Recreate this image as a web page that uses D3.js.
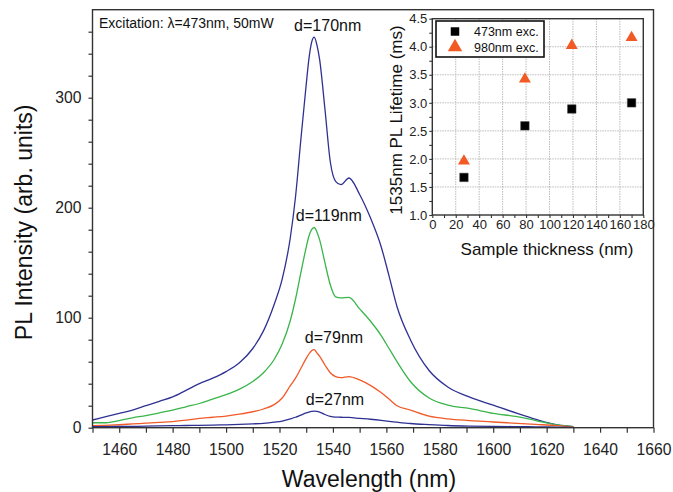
<!DOCTYPE html>
<html>
<head>
<meta charset="utf-8">
<script src="https://cdn.jsdelivr.net/npm/d3@7"></script>
<style>
  html, body { margin: 0; padding: 0; background: #fff; }
  svg { display: block; }
  text { font-family: "Liberation Sans", Arial, Helvetica, sans-serif; }
</style>
</head>
<body>
<svg id="chart" width="673" height="492"></svg>
<script>
// ---------- DATA ----------
const wavelengths = [1450,1455,1460,1465,1470,1475,1480,1485,1490,1495,1500,1505,1510,1514,1518,1521,1524,1526,1528,1530,1531,1532,1533,1534,1535,1537,1539,1541,1543,1546,1550,1554,1558,1561,1564,1569,1576,1583,1591,1600,1609,1616,1624,1630];
const pl170 = [7,10,13,16,20,24,28,34,40,45,51,59,72,88,112,135,172,210,262,312,335,350,355,348,335,290,242,224,221,227,212,191,165,138,110,80,52,37,28,20.5,13,7.5,2.5,1];
const pl119 = [4.5,4.5,6.5,9,11,13.5,16,19,22,26,30,35,42,50,62,76,97,117,141,164,174,180,182,178,171,150,130,119,118,118.5,108,97,84,72,60,42,27,20.5,17.5,13,10,6.5,2.5,1];
const pl79  = [1.8,2.2,2.7,3.4,4.1,4.8,5.5,6.8,8.5,9.5,10.6,12.3,14.5,17,21,27,38,45,54,63,67,70,71,68,65,57,50,46.5,45.5,46.5,43.5,38.5,32,26,20,16,10.5,8,6.5,5.2,4,3,1.8,0.5];
const pl27  = [0.9,1,1.1,1.2,1.4,1.6,1.8,2,2.2,2.4,2.6,3,3.5,4,5,6,8,9.5,11.5,13.5,14.2,14.8,15,14.8,14.2,12,10.3,9.6,9.5,9.3,8.5,7.7,6.7,5.8,5,3.8,2.8,2,1.5,1.2,1,0.8,0.5,0.3];
const seriesLabels = ["d=170nm","d=119nm","d=79nm","d=27nm"];
const seriesColors = ["#2e3192","#39b54a","#f15a29","#2e3192"];

const thickness = [27,79,119,170];
const life473 = [1.67,2.59,2.89,3.00];
const life980 = [1.98,3.44,4.04,4.18];
const err980  = [0.07,0.05,0.04,0.05];
const legendLabels = ["473nm exc.","980nm exc."];

const xMainTicks = d3.range(1450, 1661, 10);
const yMainTicks = d3.range(0, 361, 20);
const xInsetTicks = d3.range(0, 181, 10);
const yInsetTicks = d3.range(1, 4.51, 0.25);

// ---------- DRAW ----------
const svg = d3.select("#chart");
const axisCol = "#333";
const labCol = "#222";

const x = d3.scaleLinear().domain([1450,1660]).range([92.5,653.5]);
const y = d3.scaleLinear().domain([0,380]).range([427.7,9.7]);

// curves
const series = [pl170, pl119, pl79, pl27];
const line = d3.line().x((d,i)=>x(wavelengths[i])).y(d=>y(d)).curve(d3.curveMonotoneX);
series.forEach((s,k)=>{
  svg.append("path").datum(s).attr("d", line)
    .attr("fill","none").attr("stroke",seriesColors[k]).attr("stroke-width",1.3)
    .attr("stroke-linejoin","round");
});

// main axes
const xAxis = d3.axisBottom(x).tickValues(xMainTicks).tickSize(5).tickSizeOuter(0)
  .tickFormat(d => (d % 20 === 0 && d !== 1450) ? d : "");
const gx = svg.append("g").attr("transform",`translate(0,${y(0)})`).call(xAxis);
gx.select(".domain").remove();
gx.selectAll("line").attr("stroke",axisCol).attr("stroke-width",1.2);
gx.selectAll("text").attr("font-size","15.7px").attr("fill",labCol).attr("dy","1.2em");

const yAxis = d3.axisLeft(y).tickValues(yMainTicks).tickSize(4).tickSizeOuter(0)
  .tickFormat(d => d % 100 === 0 ? d : "");
const gy = svg.append("g").attr("transform",`translate(${x(1450)},0)`).call(yAxis);
gy.select(".domain").remove();
gy.selectAll("line").attr("stroke",axisCol).attr("stroke-width",1.2);
gy.selectAll("text").attr("font-size","15.7px").attr("fill",labCol).attr("x",-11);

// main frame
svg.append("rect").attr("x",x(1450)).attr("y",y(380)).attr("width",x(1660)-x(1450)).attr("height",y(0)-y(380))
  .attr("fill","none").attr("stroke",axisCol).attr("stroke-width",1.4);

// main labels
svg.append("text").attr("x",369).attr("y",486.5).attr("text-anchor","middle")
  .attr("font-size","23px").attr("fill","#111").text("Wavelength (nm)");
svg.append("text").attr("transform","translate(31.5,222.4) rotate(-90)").attr("text-anchor","middle")
  .attr("font-size","23px").attr("fill","#111").text("PL Intensity (arb. units)");

svg.append("text").attr("x",99).attr("y",28).attr("font-size","14px").attr("fill","#111")
  .text("Excitation: λ=473nm, 50mW");

const labelPos = [[327.7,31],[328.8,220.7],[334,342.7],[335,405]];
seriesLabels.forEach((t,k)=>{
  svg.append("text").attr("x",labelPos[k][0]).attr("y",labelPos[k][1]).attr("text-anchor","middle")
    .attr("font-size","16px").attr("fill","#111").text(t);
});

// ---------- INSET ----------
const xi = d3.scaleLinear().domain([0,180]).range([432.3,643.3]);
const yi = d3.scaleLinear().domain([1,4.5]).range([215,18.7]);

// grid
const gGrid = svg.append("g");
d3.range(20,180,20).forEach(v=>{
  gGrid.append("line").attr("x1",xi(v)).attr("x2",xi(v)).attr("y1",yi(1)).attr("y2",yi(4.5))
    .attr("stroke","#bbb").attr("stroke-width",1).attr("stroke-dasharray","1.5,1");
});
d3.range(1.5,4.5,0.5).forEach(v=>{
  gGrid.append("line").attr("x1",xi(0)).attr("x2",xi(180)).attr("y1",yi(v)).attr("y2",yi(v))
    .attr("stroke","#bbb").attr("stroke-width",1).attr("stroke-dasharray","1.5,1");
});

const xiAxis = d3.axisBottom(xi).tickValues(xInsetTicks).tickSize(3).tickSizeOuter(0)
  .tickFormat(d => d % 20 === 0 ? d : "");
const gxi = svg.append("g").attr("transform",`translate(0,${yi(1)})`).call(xiAxis);
gxi.select(".domain").remove();
gxi.selectAll("line").attr("stroke",axisCol).attr("stroke-width",1.1);
gxi.selectAll("text").attr("font-size","13px").attr("fill",labCol).attr("y",5);

const yiAxis = d3.axisLeft(yi).tickValues(yInsetTicks).tickSize(3).tickSizeOuter(0)
  .tickFormat(d => Math.abs(d*2 - Math.round(d*2))<1e-6 ? d3.format(".1f")(d) : "");
const gyi = svg.append("g").attr("transform",`translate(${xi(0)},0)`).call(yiAxis);
gyi.select(".domain").remove();
gyi.selectAll("line").attr("stroke",axisCol).attr("stroke-width",1.1);
gyi.selectAll("text").attr("font-size","13px").attr("fill",labCol).attr("x",-5);

svg.append("rect").attr("x",xi(0)).attr("y",yi(4.5)).attr("width",xi(180)-xi(0)).attr("height",yi(1)-yi(4.5))
  .attr("fill","none").attr("stroke",axisCol).attr("stroke-width",1.4);

// error bars
thickness.forEach((t,i)=>{
  svg.append("line").attr("x1",xi(t)).attr("x2",xi(t))
    .attr("y1",yi(life980[i]-err980[i])).attr("y2",yi(life980[i]+err980[i]))
    .attr("stroke","#f15a24").attr("stroke-width",1.5);
});
const sq = d3.symbol().type(d3.symbolSquare).size(72);
const tri = d3.symbol().type(d3.symbolTriangle).size(62);
thickness.forEach((t,i)=>{
  svg.append("path").attr("d",sq()).attr("transform",`translate(${xi(t)},${yi(life473[i])})`)
    .attr("fill","#000").attr("stroke","#444").attr("stroke-width",0.5);
  svg.append("path").attr("d",tri()).attr("transform",`translate(${xi(t)},${yi(life980[i])+1})`)
    .attr("fill","#f15a24");
});

// legend
svg.append("rect").attr("x",436).attr("y",21).attr("width",108).attr("height",36)
  .attr("fill","#fff").attr("stroke","#111").attr("stroke-width",1.6);
svg.append("path").attr("d",sq()).attr("transform","translate(455,31.5)").attr("fill","#000");
svg.append("path").attr("d",d3.symbol().type(d3.symbolTriangle).size(90)()).attr("transform","translate(455,47)").attr("fill","#f15a24");
legendLabels.forEach((t,k)=>{
  svg.append("text").attr("x",474).attr("y",36+k*15.5).attr("font-size","12.5px").attr("fill","#111").text(t);
});

// inset labels
svg.append("text").attr("x",547).attr("y",254.5).attr("text-anchor","middle")
  .attr("font-size","17px").attr("fill","#111").text("Sample thickness (nm)");
svg.append("text").attr("transform","translate(401.5,120) rotate(-90)").attr("text-anchor","middle")
  .attr("font-size","17px").attr("fill","#111").text("1535nm PL Lifetime (ms)");
</script>
</body>
</html>
